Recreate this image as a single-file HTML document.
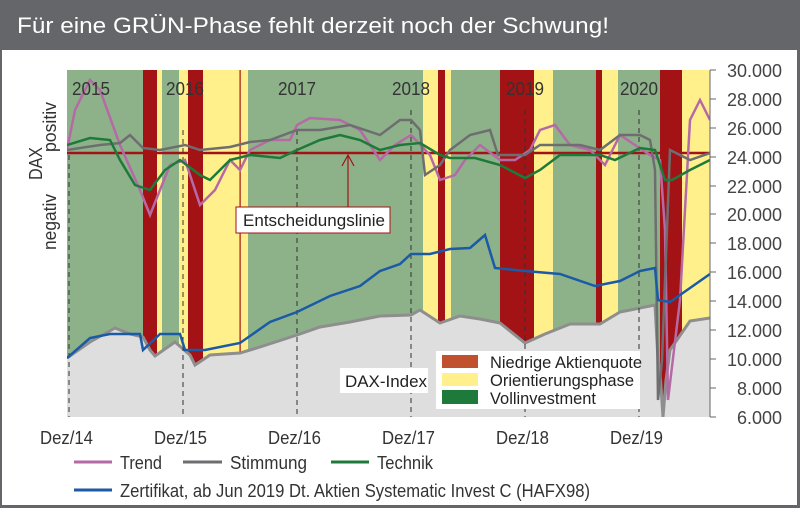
<!DOCTYPE html>
<html><head><meta charset="utf-8"><style>
body{margin:0;width:800px;height:508px;background:#fff;overflow:hidden;font-family:"Liberation Sans",sans-serif}
</style></head><body>
<svg width="800" height="508" xmlns="http://www.w3.org/2000/svg" font-family="Liberation Sans, sans-serif">
<rect x="0" y="0" width="800" height="508" fill="#646669"/>
<rect x="2" y="50" width="795" height="455" fill="#fff"/>
<text x="17" y="33" fill="#fff" font-size="22" textLength="592" lengthAdjust="spacingAndGlyphs">Für eine GRÜN-Phase fehlt derzeit noch der Schwung!</text>
<defs><clipPath id="c"><rect x="67" y="70" width="643" height="347"/></clipPath></defs>
<g clip-path="url(#c)">
<rect x="67" y="70" width="643" height="347" fill="#8db28a"/>
<g fill="#fff08c">
<rect x="157" y="70" width="5" height="347"/><rect x="179" y="70" width="9" height="347"/>
<rect x="203" y="70" width="45" height="347"/><rect x="423" y="70" width="28" height="347"/>
<rect x="534" y="70" width="19" height="347"/><rect x="602" y="70" width="16" height="347"/>
<rect x="682" y="70" width="28" height="347"/></g>
<g fill="#a31214">
<rect x="143" y="70" width="14" height="347"/><rect x="188" y="70" width="15" height="347"/>
<rect x="239.5" y="70" width="1.2" height="347"/><rect x="438" y="70" width="7" height="347"/>
<rect x="500" y="70" width="34" height="347"/><rect x="596" y="70" width="6" height="347"/>
<rect x="660" y="70" width="22" height="347"/></g>
<polygon fill="#dedede" points="67,417 67,358 90,342 115,328 130,334 143,337 150,350 155,356 175,342 190,355 195,365 210,355 240,353 260,347 297,335 320,327 350,322 380,316 411,315 420,310 440,323 460,316 480,319 500,323 525,343 545,334 570,324 600,324 620,312 640,308 655,305 658,360 660,372 663,417 666,380 670,350 690,321 710,318 710,417"/>
<polyline fill="none" stroke="#8e8e8e" stroke-width="3" points="67,358 90,342 115,328 130,334 143,337 150,350 155,356 175,342 190,355 195,365 210,355 240,353 260,347 297,335 320,327 350,322 380,316 411,315 420,310 440,323 460,316 480,319 500,323 525,343 545,334 570,324 600,324 620,312 640,308 655,305 658,360 660,372 663,417 666,380 670,350 690,321 710,318"/>
<line x1="67" y1="153" x2="710" y2="153" stroke="#a31214" stroke-width="2.5"/>
<g stroke="#333" stroke-width="1" stroke-dasharray="5,4">
<line x1="69" y1="155" x2="69" y2="417"/><line x1="183" y1="130" x2="183" y2="417"/>
<line x1="297" y1="130" x2="297" y2="417"/><line x1="411" y1="110" x2="411" y2="417"/>
<line x1="525" y1="110" x2="525" y2="417"/><line x1="639" y1="110" x2="639" y2="417"/></g>
<polyline fill="none" stroke="#b56aa6" stroke-width="2.5" points="67,150 75,110 90,80 100,90 120,145 140,190 150,215 160,190 170,165 185,160 200,205 215,190 230,160 240,170 250,150 270,140 290,140 297,125 310,118 340,120 360,130 380,160 395,145 411,135 430,155 440,180 455,175 465,160 480,145 500,160 515,160 530,150 540,130 555,125 570,145 590,150 600,160 605,165 620,135 635,145 650,155 660,160 665,230 668,400 680,300 690,120 700,100 705,110 710,120"/>
<polyline fill="none" stroke="#6e6e70" stroke-width="2.5" points="67,150 80,148 100,145 120,143 130,135 143,148 160,150 185,145 200,150 230,147 250,142 270,140 297,130 320,130 350,125 380,135 400,120 411,120 420,130 425,175 440,165 450,150 470,135 490,130 498,155 525,155 540,145 560,145 580,145 600,150 620,135 640,135 650,140 655,170 658,400 662,360 670,150 690,160 710,153"/>
<polyline fill="none" stroke="#1e7a3a" stroke-width="2.5" points="67,145 90,138 110,140 120,160 135,185 150,190 165,170 180,160 200,175 210,180 230,160 250,155 280,158 297,150 320,140 340,135 360,140 380,150 400,145 420,143 440,155 450,158 475,158 500,165 525,178 540,170 560,155 600,155 615,160 640,148 655,150 665,180 672,180 690,170 710,160"/>
<polyline fill="none" stroke="#1a5aa6" stroke-width="2.5" points="67,358 90,338 110,334 140,334 143,350 160,334 180,334 185,350 205,350 240,343 270,322 297,312 330,296 360,286 380,271 400,264 411,254 430,254 450,249 470,248 485,235 495,268 525,271 560,274 595,286 620,281 640,271 655,268 658,300 670,302 690,288 710,274"/>
</g>
<line x1="348" y1="210" x2="348" y2="156" stroke="#a31214" stroke-width="1.2"/>
<polyline points="342,166 348,155 354,166" fill="none" stroke="#a31214" stroke-width="1.2"/>
<rect x="236" y="207" width="154" height="26" fill="#fff" stroke="#a31214"/>
<text x="243" y="226" font-size="17" fill="#222" textLength="142" lengthAdjust="spacingAndGlyphs">Entscheidungslinie</text>
<rect x="340" y="368" width="88" height="25" fill="#fff"/>
<text x="345" y="387" font-size="17" fill="#222" textLength="82" lengthAdjust="spacingAndGlyphs">DAX-Index</text>
<rect x="436" y="351" width="204" height="58" fill="#fff"/>
<rect x="442" y="355" width="36" height="13" fill="#c0502e"/>
<rect x="442" y="373" width="36" height="13" fill="#fff08c"/>
<rect x="442" y="390" width="36" height="14" fill="#1e7a3a"/>
<g font-size="17" fill="#222">
<text x="490" y="368" textLength="152" lengthAdjust="spacingAndGlyphs">Niedrige Aktienquote</text>
<text x="490" y="386" textLength="144" lengthAdjust="spacingAndGlyphs">Orientierungsphase</text>
<text x="490" y="404" textLength="106" lengthAdjust="spacingAndGlyphs">Vollinvestment</text></g>
<g font-size="18" fill="#333"><text x="72" y="95" textLength="38" lengthAdjust="spacingAndGlyphs">2015</text><text x="166" y="95" textLength="38" lengthAdjust="spacingAndGlyphs">2016</text><text x="278" y="95" textLength="38" lengthAdjust="spacingAndGlyphs">2017</text><text x="392" y="95" textLength="38" lengthAdjust="spacingAndGlyphs">2018</text><text x="506" y="95" textLength="38" lengthAdjust="spacingAndGlyphs">2019</text><text x="620" y="95" textLength="38" lengthAdjust="spacingAndGlyphs">2020</text></g>
<line x1="710" y1="70" x2="710" y2="417" stroke="#666"/>
<g stroke="#666"><line x1="710" y1="70" x2="716" y2="70"/><line x1="710" y1="99" x2="716" y2="99"/><line x1="710" y1="128" x2="716" y2="128"/><line x1="710" y1="157" x2="716" y2="157"/><line x1="710" y1="186" x2="716" y2="186"/><line x1="710" y1="214" x2="716" y2="214"/><line x1="710" y1="243" x2="716" y2="243"/><line x1="710" y1="272" x2="716" y2="272"/><line x1="710" y1="301" x2="716" y2="301"/><line x1="710" y1="330" x2="716" y2="330"/><line x1="710" y1="359" x2="716" y2="359"/><line x1="710" y1="388" x2="716" y2="388"/><line x1="710" y1="417" x2="716" y2="417"/></g>
<g font-size="18" fill="#444" text-anchor="end"><text x="782" y="77">30.000</text><text x="782" y="106">28.000</text><text x="782" y="135">26.000</text><text x="782" y="164">24.000</text><text x="782" y="193">22.000</text><text x="782" y="221">20.000</text><text x="782" y="250">18.000</text><text x="782" y="279">16.000</text><text x="782" y="308">14.000</text><text x="782" y="337">12.000</text><text x="782" y="366">10.000</text><text x="782" y="395">8.000</text><text x="782" y="424">6.000</text></g>
<g font-size="18" fill="#333"><text x="40" y="444" textLength="53" lengthAdjust="spacingAndGlyphs">Dez/14</text><text x="154" y="444" textLength="53" lengthAdjust="spacingAndGlyphs">Dez/15</text><text x="268" y="444" textLength="53" lengthAdjust="spacingAndGlyphs">Dez/16</text><text x="382" y="444" textLength="53" lengthAdjust="spacingAndGlyphs">Dez/17</text><text x="496" y="444" textLength="53" lengthAdjust="spacingAndGlyphs">Dez/18</text><text x="610" y="444" textLength="53" lengthAdjust="spacingAndGlyphs">Dez/19</text></g>
<g font-size="18" fill="#333">
<text transform="translate(42,180) rotate(-90)" textLength="33" lengthAdjust="spacingAndGlyphs">DAX</text>
<text transform="translate(56,152) rotate(-90)" textLength="50" lengthAdjust="spacingAndGlyphs">positiv</text>
<text transform="translate(56,250) rotate(-90)" textLength="56" lengthAdjust="spacingAndGlyphs">negativ</text></g>
<g stroke-width="3"><line x1="74" y1="462" x2="112" y2="462" stroke="#b56aa6"/><line x1="183" y1="462" x2="222" y2="462" stroke="#6e6e70"/><line x1="331" y1="462" x2="369" y2="462" stroke="#1e7a3a"/><line x1="74" y1="490" x2="112" y2="490" stroke="#1a5aa6"/></g>
<g font-size="18" fill="#333"><text x="120" y="469" textLength="42" lengthAdjust="spacingAndGlyphs">Trend</text><text x="230" y="469" textLength="77" lengthAdjust="spacingAndGlyphs">Stimmung</text><text x="377" y="469" textLength="56" lengthAdjust="spacingAndGlyphs">Technik</text><text x="120" y="497" textLength="470" lengthAdjust="spacingAndGlyphs">Zertifikat, ab Jun 2019 Dt. Aktien Systematic Invest C (HAFX98)</text></g>
</svg>
</body></html>
